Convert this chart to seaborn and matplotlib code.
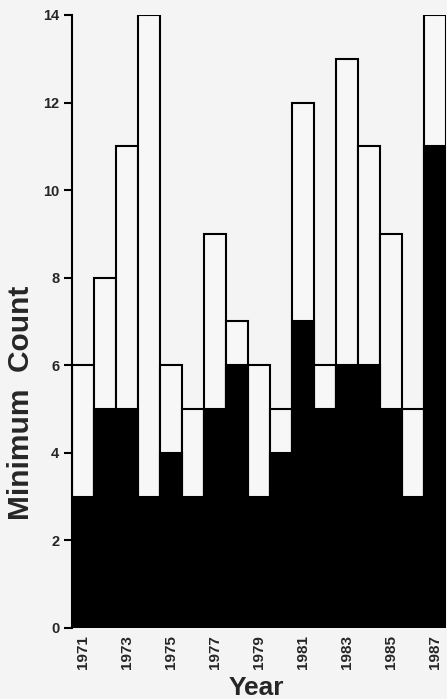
import numpy as np
import pandas as pd
import matplotlib
matplotlib.use("Agg")
import matplotlib.pyplot as plt
import seaborn as sns

years = list(range(1971, 1988))
# black (lower) part and total height of each bar
lower = [3, 5, 5, 3, 4, 3, 5, 6, 3, 4, 7, 5, 6, 6, 5, 3, 11]
total = [6, 8, 11, 14, 6, 5, 9, 7, 6, 5, 12, 6, 13, 11, 9, 5, 14]

df = pd.DataFrame({"Year": years, "lower": lower, "total": total})

sns.set_style("white")
plt.rcParams['font.family'] = ['Liberation Sans', 'DejaVu Sans']

fig = plt.figure(figsize=(4.47, 6.99), dpi=100, facecolor='#f4f4f4')
ax = fig.add_axes([0.161, 0.1016, 0.837, 0.877])
ax.set_facecolor('#f4f4f4')

sns.barplot(data=df, x="Year", y="total", color='#f7f7f7', edgecolor='black',
            linewidth=1.5, width=1.0, ax=ax)
sns.barplot(data=df, x="Year", y="lower", color='black', edgecolor='black',
            linewidth=1.5, width=1.0, ax=ax)

ax.set_xlim(-0.5, len(years) - 0.5)
ax.set_ylim(0, 14)
ax.set_yticks(np.arange(0, 15, 2))
ax.set_yticklabels([str(v) for v in range(0, 15, 2)], fontsize=10.5, fontweight='bold')
ax.set_xticks(range(len(years)))
ax.set_xticklabels([str(y) if y % 2 == 1 else '' for y in years],
                   rotation=90, fontsize=11, fontweight='bold')
ax.tick_params(axis='y', direction='out', length=6, width=1.5, color='black',
               left=True, pad=3)
ax.tick_params(axis='x', length=0, pad=5)

for s in ['top', 'right']:
    ax.spines[s].set_visible(False)
ax.spines['left'].set_linewidth(1.5)
ax.spines['left'].set_color('black')
ax.spines['bottom'].set_visible(False)

ax.set_ylabel("")
ax.set_xlabel("")
fig.text(21 / 447, 1 - 403 / 699, "Minimum  Count", rotation=90, ha='center',
         va='center', fontsize=21.5, fontweight='bold')
fig.text(256 / 447, 1 - 688 / 699, "Year", ha='center', va='center',
         fontsize=19, fontweight='bold')

fig.savefig("out.png", dpi=100, facecolor=fig.get_facecolor())
